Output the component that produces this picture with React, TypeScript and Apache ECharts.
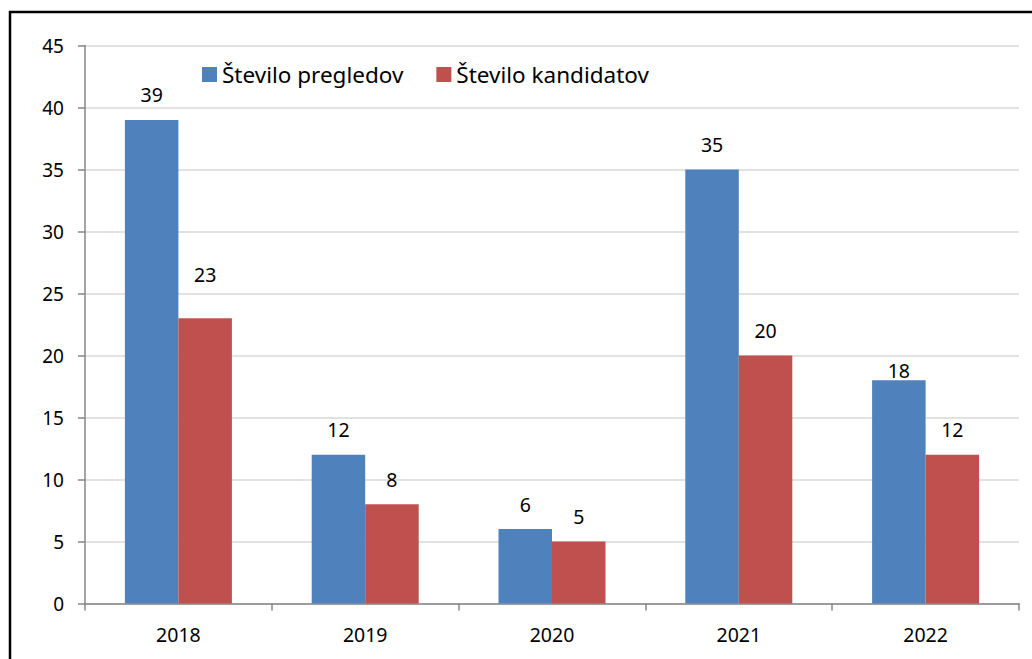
import React, { useEffect, useRef } from "react";
import * as echarts from "echarts";

const categories = ["2018", "2019", "2020", "2021", "2022"];
const pregledi = [39, 12, 6, 35, 18];
const kandidati = [23, 8, 5, 20, 12];
const seriesNames = ["Število pregledov", "Število kandidatov"];

// manual label nudges (px, negative = up) as placed in the original
const pregalediLabelShift = [0, 0, 0, 0, 15];
const kandidatiLabelShift = [-19, 0, 0, 0, 0];

const FONT = '"Noto Sans", "Open Sans", sans-serif';

export default function App() {
  const ref = useRef<HTMLDivElement>(null);
  useEffect(() => {
    document.body.style.margin = "0";
    const chart = echarts.init(ref.current!, null, { renderer: "svg" });
    const label = { show: true, position: "top", color: "#000", fontSize: 19.5, fontFamily: FONT, distance: 15 };
    const build = (vals: number[], shifts: number[]) =>
      vals.map((v, i) => (shifts[i] ? { value: v, label: { offset: [0, shifts[i]] } } : v));
    chart.setOption({
      animation: false,
      backgroundColor: "#fff",
      textStyle: { fontFamily: FONT },
      graphic: [
        {
          type: "rect",
          shape: { x: 10, y: 12, width: 1100, height: 800 },
          style: { fill: "none", stroke: "#000", lineWidth: 2.5 },
          silent: true,
        },
      ],
      legend: {
        left: 197,
        top: 58,
        itemWidth: 15,
        itemHeight: 15,
        itemGap: 33,
        icon: "rect",
        textStyle: { fontSize: 22.5, color: "#000", fontFamily: FONT },
        data: seriesNames,
      },
      grid: { left: 85, right: 13, top: 45.5, bottom: 55.5 },
      xAxis: {
        type: "category",
        data: categories,
        axisLine: { lineStyle: { color: "#868686", width: 1.5 } },
        axisTick: { show: true, alignWithLabel: false, length: 7, lineStyle: { color: "#868686", width: 1.5 } },
        axisLabel: { color: "#000", fontSize: 19.5, fontFamily: FONT, margin: 21 },
      },
      yAxis: {
        type: "value",
        min: 0,
        max: 45,
        interval: 5,
        axisLine: { show: true, lineStyle: { color: "#868686", width: 1.5 } },
        axisTick: { show: true, inside: false, length: 7, lineStyle: { color: "#868686", width: 1.5 } },
        axisLabel: { color: "#000", fontSize: 19, fontFamily: FONT, margin: 21 },
        splitLine: { lineStyle: { color: "#d9d9d9", width: 1.5 } },
      },
      series: [
        {
          name: seriesNames[0],
          type: "bar",
          data: build(pregledi, pregalediLabelShift),
          barWidth: 53.5,
          barGap: "0%",
          itemStyle: { color: "#4F81BD" },
          label,
        },
        {
          name: seriesNames[1],
          type: "bar",
          data: build(kandidati, kandidatiLabelShift),
          barWidth: 53.5,
          barGap: "0%",
          itemStyle: { color: "#C0504D" },
          label,
        },
      ],
    });
    return () => chart.dispose();
  }, []);
  return <div ref={ref} style={{ width: 1032, height: 659 }} />;
}
